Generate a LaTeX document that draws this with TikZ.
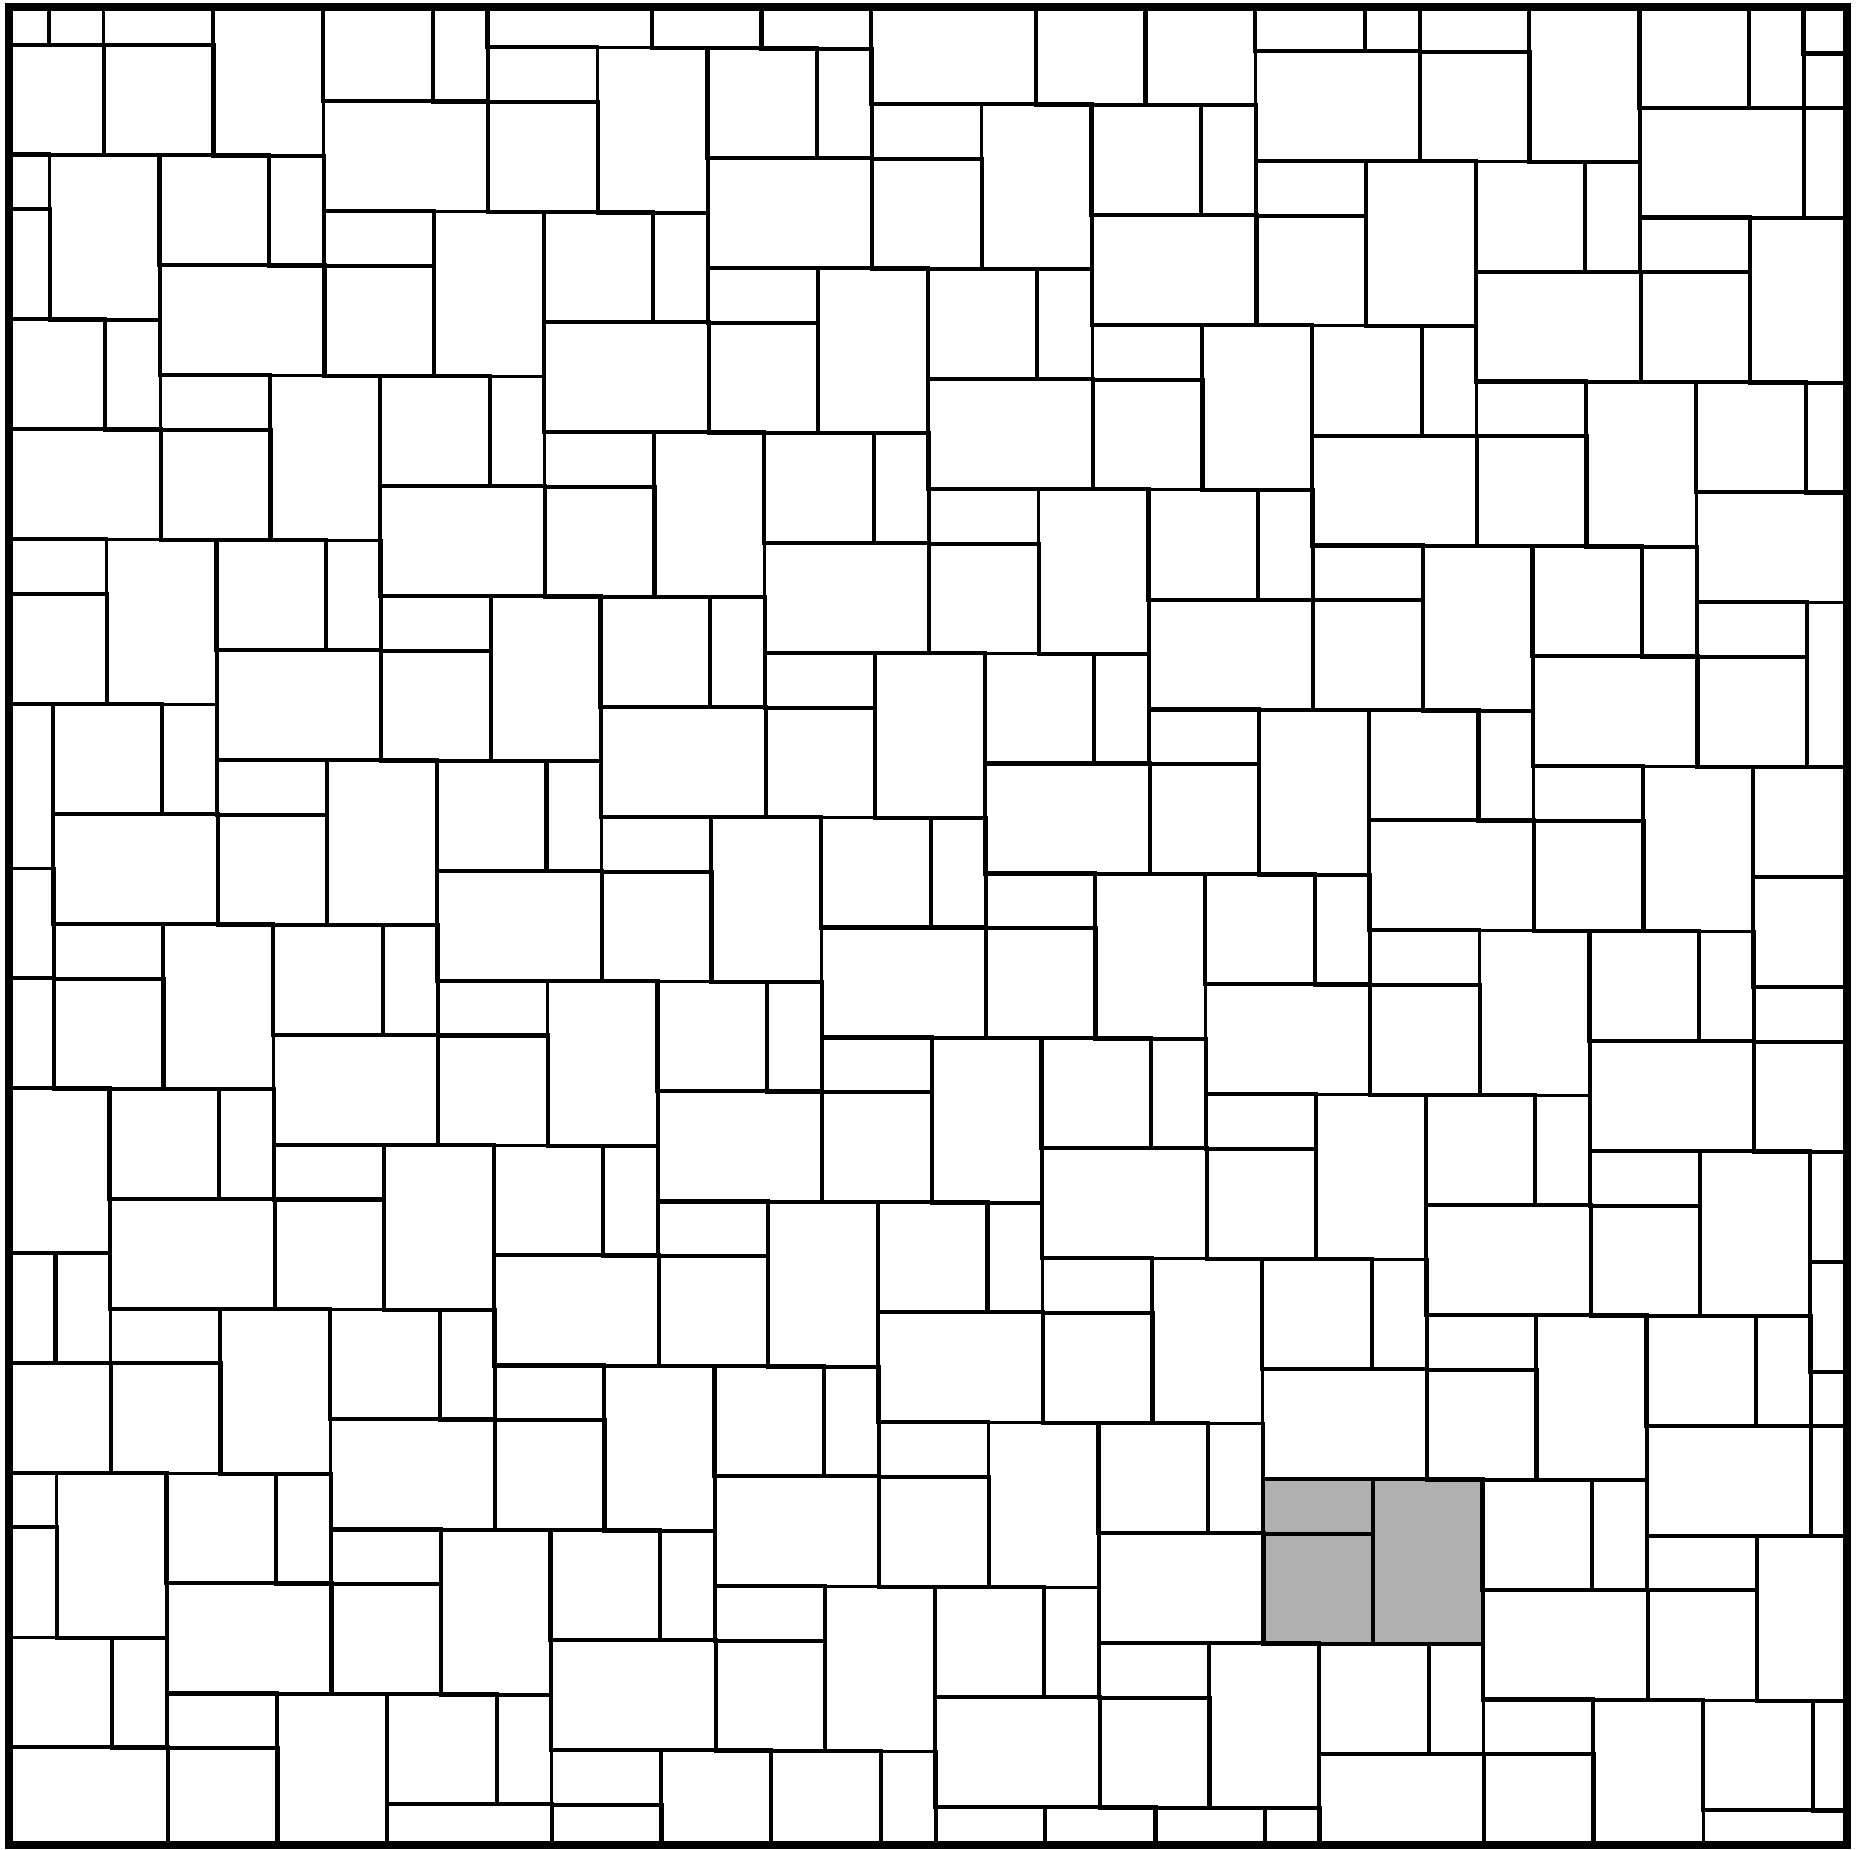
\documentclass[tikz,border=0pt]{standalone}
\usepackage{xcolor}

\definecolor{paver}{HTML}{B0B0B0}

\begin{document}
\begin{tikzpicture}[
    x=0.02cm,
    y=-0.02cm,
    slab/.style={
        draw=black,
        line width=2pt
    },
    border/.style={
        draw=black,
        line width=5pt
    }
]
\useasboundingbox (0,0) rectangle (1858,1849);

% Paving, clipped to the frame
\begin{scope}
\clip (9,7) rectangle (1847,1845);
\begin{scope}[x={(1.097cm,-0.0052cm)}, y={(0.0058cm,-1.0986cm)}, shift={(2.086cm,-3.1cm)}]

% Highlighted block
\fill[paver] (21,24) rectangle (25,27);

% Repeating blocks (4x3 block with a 3x4 block above it)
\foreach \m in {-8,...,4}{
  \foreach \n in {-7,...,8}{
    \pgfmathsetmacro{\gx}{21+4*\m+3*\n}
    \pgfmathsetmacro{\gy}{24+4*\m-3*\n}
    \begin{scope}[shift={(\gx,\gy)}]
      \draw[slab] (0,0) rectangle (2,1);
      \draw[slab] (0,1) rectangle (2,3);
      \draw[slab] (2,0) rectangle (4,3);
      \draw[slab] (0,-4) rectangle (2,-2);
      \draw[slab] (2,-4) rectangle (3,-2);
      \draw[slab] (0,-2) rectangle (3,0);
    \end{scope}
  }
}
\end{scope}
\end{scope}

% Frame
\draw[border] (9,7) rectangle (1847,1845);

\end{tikzpicture}
\end{document}
